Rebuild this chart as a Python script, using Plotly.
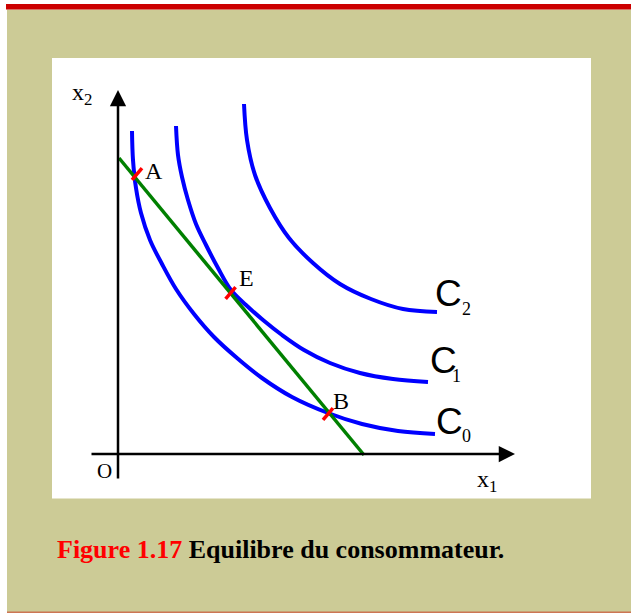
import plotly.graph_objects as go

W, H = 631, 613

# ---- data (economic units; origin O at the axes crossing) ----
c0_x = [0.70, 0.75, 0.90, 1.15, 1.60, 2.20, 2.90, 3.80, 4.80, 5.95, 7.20, 8.70, 10.50, 12.20, 14.00, 15.85]
c0_y = [16.15, 14.70, 13.30, 12.05, 10.70, 9.50, 8.25, 7.00, 5.85, 4.80, 3.80, 2.85, 2.05, 1.50, 1.15, 1.00]

c1_x = [2.90, 3.00, 3.20, 3.50, 3.90, 4.40, 5.00, 5.65, 6.40, 7.25, 8.20, 9.30, 10.60, 12.10, 13.75, 15.50]
c1_y = [16.40, 14.95, 13.85, 12.70, 11.50, 10.45, 9.30, 8.20, 7.45, 6.70, 5.95, 5.20, 4.55, 4.05, 3.75, 3.60]

c2_x = [6.30, 6.45, 6.85, 7.60, 8.55, 9.75, 11.10, 12.65, 14.25, 15.95]
c2_y = [17.50, 15.70, 13.95, 12.30, 10.80, 9.55, 8.50, 7.75, 7.25, 7.10]

budget_x = [0.05, 12.30]
budget_y = [14.80, -0.05]

point_names = ["A", "E", "B"]
point_x = [0.95, 5.63, 10.50]
point_y = [14.00, 8.05, 2.00]

curve_names = ["C", "C", "C"]
curve_subs = ["0", "1", "2"]

caption_red = "Figure 1.17"
caption_black = " Equilibre du consommateur."

# ---- pixel helpers for decoration placement ----
def px(x):
    return x / W

def py(y):
    return 1 - y / H

SERIF = "Liberation Serif"
SANS = "Liberation Sans"

fig = go.Figure()

for cx, cy in [(c0_x, c0_y), (c1_x, c1_y), (c2_x, c2_y)]:
    fig.add_trace(go.Scatter(x=cx, y=cy, mode="lines",
                             line=dict(color="#0000FF", width=4, shape="spline",
                                       smoothing=1.0, simplify=False),
                             hoverinfo="skip", showlegend=False))

fig.add_trace(go.Scatter(x=budget_x, y=budget_y, mode="lines",
                         line=dict(color="#008000", width=3.5),
                         hoverinfo="skip", showlegend=False))

fig.add_trace(go.Scatter(x=point_x, y=point_y, mode="markers",
                         marker=dict(symbol="line-ne", size=11, angle=-5,
                                     line=dict(color="#FF0000", width=3.5)),
                         hoverinfo="skip", showlegend=False))

shapes = [
    dict(type="rect", xref="paper", yref="paper", x0=px(7), x1=1, y0=0, y1=py(9.5),
         fillcolor="#CCCB96", line=dict(width=0), layer="below"),
    dict(type="rect", xref="paper", yref="paper", x0=px(6), x1=1, y0=py(9.5), y1=py(4),
         fillcolor="#CC0000", line=dict(width=0), layer="below"),
    dict(type="rect", xref="paper", yref="paper", x0=px(7), x1=1, y0=py(613), y1=py(611.5),
         fillcolor="rgba(204,60,40,0.6)", line=dict(width=0), layer="below"),
    dict(type="rect", xref="paper", yref="paper", x0=px(52), x1=px(591), y0=py(498.5), y1=py(58),
         fillcolor="#FFFFFF", line=dict(width=0), layer="below"),
]

annotations = []
# axes with arrowheads
annotations.append(dict(x=0, y=18.2, ax=0, ay=-1.3, xref="x", yref="y", axref="x", ayref="y",
                        text="", showarrow=True, arrowhead=2, arrowsize=1.3, arrowwidth=2.5,
                        arrowcolor="#000000"))
annotations.append(dict(x=19.85, y=0, ax=-1.4, ay=0, xref="x", yref="y", axref="x", ayref="y",
                        text="", showarrow=True, arrowhead=2, arrowsize=1.3, arrowwidth=2.5,
                        arrowcolor="#000000"))

# axis labels
annotations.append(dict(x=px(82), y=py(94), xref="paper", yref="paper", text="x<sub>2</sub>",
                        showarrow=False, font=dict(family=SERIF, size=24, color="#000"),
                        xanchor="center", yanchor="middle"))
annotations.append(dict(x=px(487), y=py(481), xref="paper", yref="paper", text="x<sub>1</sub>",
                        showarrow=False, font=dict(family=SERIF, size=24, color="#000"),
                        xanchor="center", yanchor="middle"))
annotations.append(dict(x=px(104), y=py(471), xref="paper", yref="paper", text="O",
                        showarrow=False, font=dict(family=SERIF, size=21, color="#000"),
                        xanchor="center", yanchor="middle"))

# point labels
lbl_pos = [(153.5, 171), (246, 278), (341, 401)]
for name, (lx, ly) in zip(point_names, lbl_pos):
    annotations.append(dict(x=px(lx), y=py(ly), xref="paper", yref="paper", text=name,
                            showarrow=False, font=dict(family=SERIF, size=24, color="#000"),
                            xanchor="center", yanchor="middle"))

# curve labels
c_pos = [(449, 421), (443, 360), (448.5, 294)]
s_pos = [(466, 436), (456, 376), (466, 309)]
for name, sub, (cx_, cy_), (sx_, sy_) in zip(curve_names, curve_subs, c_pos, s_pos):
    annotations.append(dict(x=px(cx_), y=py(cy_), xref="paper", yref="paper", text=name,
                            showarrow=False, font=dict(family=SANS, size=37, color="#000"),
                            xanchor="center", yanchor="middle"))
    annotations.append(dict(x=px(sx_), y=py(sy_), xref="paper", yref="paper", text=sub,
                            showarrow=False, font=dict(family=SERIF, size=18, color="#000"),
                            xanchor="center", yanchor="middle"))

# caption
annotations.append(dict(x=px(55), y=py(549), xref="paper", yref="paper",
                        text="<b><span style='color:#FF0000'>" + caption_red + "</span>" + caption_black + "</b>",
                        showarrow=False, font=dict(family=SERIF, size=26, color="#000000"),
                        xanchor="left", yanchor="middle"))

fig.update_layout(
    width=W, height=H,
    margin=dict(l=0, r=0, t=0, b=0),
    paper_bgcolor="#FFFFFF",
    plot_bgcolor="rgba(0,0,0,0)",
    xaxis=dict(visible=False, range=[-118 / 20, (W - 118) / 20], fixedrange=True),
    yaxis=dict(visible=False, range=[(454 - H) / 20, 454 / 20], fixedrange=True),
    shapes=shapes,
    annotations=annotations,
    showlegend=False,
)

fig.write_html("out.html", config={"displayModeBar": False},
               post_script="document.body.style.margin='0';document.body.style.overflow='hidden';")
